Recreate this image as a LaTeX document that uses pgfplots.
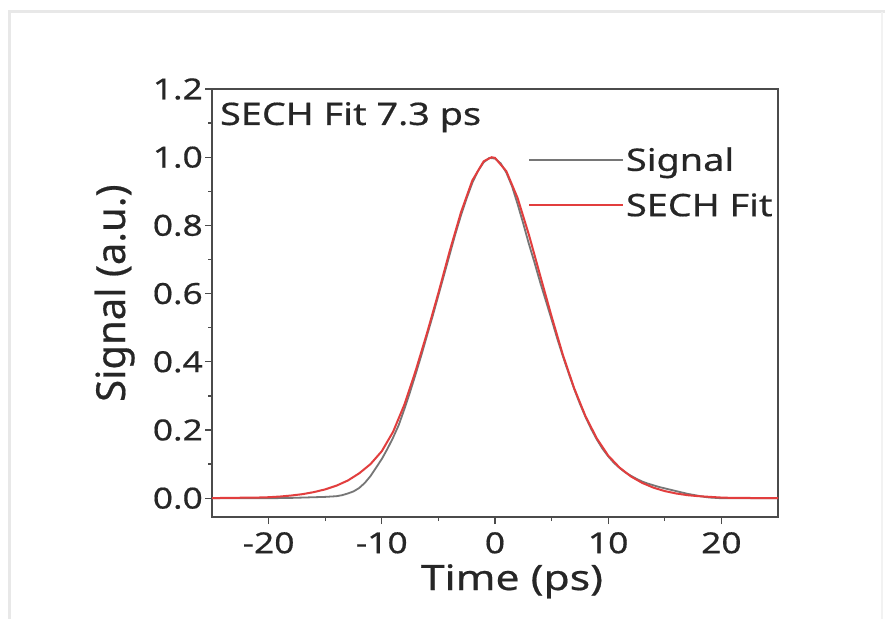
\documentclass[border=0pt]{standalone}
\usepackage{pgfplots}
\pgfplotsset{compat=1.18}
\usepackage{fontspec}
\setmainfont{Noto Sans}[FakeStretch=1.22, FakeBold=0.5]
\newfontfamily\yfont{Noto Sans}[FakeBold=0.5]
\definecolor{sig}{RGB}{118,118,118}
\definecolor{fit}{RGB}{226,62,62}
\definecolor{axc}{RGB}{75,75,75}

\begin{document}
\begin{tikzpicture}
\useasboundingbox (0,0) rectangle (885pt,619pt);
\fill[white] (0,0) rectangle (885pt,619pt);
\draw[black!9, line width=3pt] (9pt,0) -- (9pt,607pt) -- (885pt,607pt);
\draw[black!5, line width=2pt] (882pt,0) -- (882pt,607pt);
\begin{axis}[
    at={(212pt,102pt)}, anchor=south west,
    scale only axis, width=566pt, height=428pt,
    xmin=-25, xmax=25, ymin=-0.055, ymax=1.2,
    xtick={-20,-10,0,10,20},
    ytick={0,0.2,0.4,0.6,0.8,1.0,1.2},
    minor x tick num=1, minor y tick num=1,
    tick align=outside, xtick pos=bottom, ytick pos=left,
    major tick length=7pt, minor tick length=4pt,
    axis line style={axc, line width=1.5pt},
    every tick/.style={axc, line width=1.3pt},
    /pgf/number format/assume math mode=true,
    yticklabel style={/pgf/number format/fixed, /pgf/number format/fixed zerofill,
        /pgf/number format/precision=1, inner sep=2pt},
    ticklabel style={font=\fontsize{29}{34}\selectfont, text=black!85},
    xticklabel style={inner sep=8pt},
    xlabel={Time (ps)},
    x label style={at={(axis description cs:0.530,-0.1706)}, anchor=base,
        font=\fontsize{35}{42}\selectfont, text=black!85},
    ylabel={Signal (a.u.)},
    y label style={at={(axis description cs:-0.1537,0.523)}, anchor=base,
        font=\yfont\fontsize{40}{48}\selectfont, text=black!85},
    legend style={draw=none, fill=none, at={(rel axis cs:0.558,0.869)},
        anchor=north west, inner sep=0pt, row sep=17pt,
        font=\fontsize{31}{37}\selectfont, text=black!85},
    legend cell align=left,
    legend image code/.code={\path (0pt,0pt) -- (94pt,0pt);
        \draw[#1] (0pt,0pt) -- (85pt,0pt);},
  ]
  \addplot[sig, line width=1.8pt] coordinates {
    (-25,0) (-20,0) (-18,0.001) (-17,0.002) (-16,0.003) (-15,0.004) (-14,0.006)
    (-13.5,0.009) (-13,0.014) (-12.5,0.020) (-12,0.030) (-11.5,0.045) (-11,0.065)
    (-10.5,0.090) (-10,0.115) (-9.5,0.145) (-9,0.178) (-8.5,0.215) (-8,0.262)
    (-7.5,0.312) (-7,0.365) (-6.5,0.420) (-6,0.478) (-5.5,0.535) (-5,0.595)
    (-4.5,0.655) (-4,0.715) (-3.5,0.775) (-3,0.830) (-2.5,0.880) (-2,0.925)
    (-1.5,0.960) (-1,0.985) (-0.5,0.998) (0,0.996) (0.5,0.982) (1,0.955)
    (1.5,0.915) (2,0.862) (2.5,0.805) (3,0.745) (3.5,0.690) (4,0.632)
    (4.5,0.578) (5,0.524) (5.5,0.468) (6,0.416) (6.5,0.367) (7,0.320)
    (7.5,0.277) (8,0.238) (8.5,0.203) (9,0.172) (9.5,0.145) (10,0.123)
    (10.5,0.104) (11,0.089) (11.5,0.076) (12,0.066) (12.5,0.057) (13,0.049)
    (13.5,0.043) (14,0.038) (14.5,0.033) (15,0.029) (15.5,0.025) (16,0.021)
    (16.5,0.017) (17,0.013) (17.5,0.010) (18,0.007) (18.5,0.004) (19,0.002)
    (19.5,0.001) (20,0) (25,0)
  };
  \addlegendentry{Signal}
  \addplot[fit, line width=2pt] coordinates {
    (-25,0) (-24,0.001) (-23,0.001) (-22,0.002) (-21,0.002) (-20,0.003)
    (-19,0.005) (-18,0.008) (-17,0.012) (-16,0.018) (-15,0.026) (-14,0.037)
    (-13,0.052) (-12,0.073) (-11,0.100) (-10,0.138) (-9,0.195) (-8,0.275)
    (-7,0.375) (-6,0.485) (-5,0.602) (-4,0.725) (-3,0.839) (-2,0.932)
    (-1,0.988) (-0.3,1.0) (0,0.998) (1,0.959) (2,0.880) (3,0.772) (4,0.652)
    (5,0.533) (6,0.420) (7,0.322) (8,0.240) (9,0.175) (10,0.125) (11,0.090)
    (12,0.064) (13,0.045) (14,0.031) (15,0.021) (16,0.014) (17,0.009)
    (18,0.006) (19,0.004) (20,0.002) (21,0.001) (22,0.001) (23,0.0005)
    (24,0) (25,0)
  };
  \addlegendentry{SECH Fit}
  \node[anchor=base west, inner sep=0pt, font=\fontsize{31}{37}\selectfont, text=black!85]
    at (rel axis cs:0.014,0.916) {SECH Fit 7.3 ps};
\end{axis}
\end{tikzpicture}
\end{document}
